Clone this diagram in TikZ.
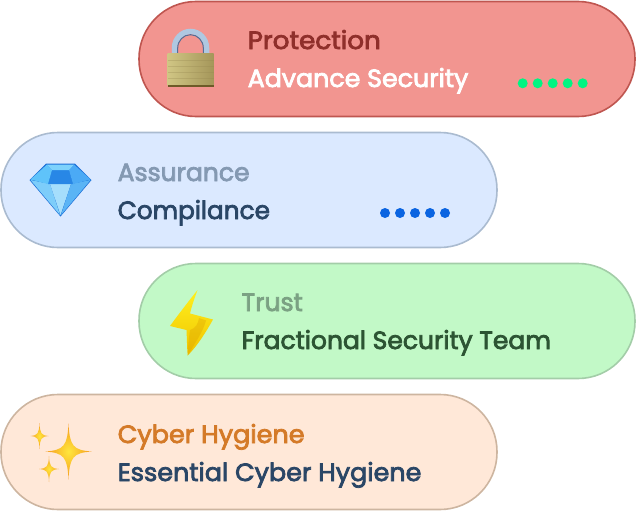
\documentclass[tikz,border=0pt]{standalone}
\usepackage{fontspec}
\setmainfont{Poppins}[FakeBold=3]
\usepackage{tikz}
\usetikzlibrary{positioning}
\usetikzlibrary{calc}
\definecolor{redfill}{HTML}{F29590}
\definecolor{reddraw}{HTML}{BF5650}
\definecolor{redtext}{HTML}{8F2F2B}
\definecolor{bluefill}{HTML}{DBE9FF}
\definecolor{bluedraw}{HTML}{AABBD0}
\definecolor{bluetext}{HTML}{8499B2}
\definecolor{darktext}{HTML}{2A4666}
\definecolor{greenfill}{HTML}{C2F9C7}
\definecolor{greendraw}{HTML}{A3CDA8}
\definecolor{greentext}{HTML}{7BA183}
\definecolor{greendark}{HTML}{2C5433}
\definecolor{peachfill}{HTML}{FFE8D8}
\definecolor{peachdraw}{HTML}{CDB5A0}
\definecolor{peachtext}{HTML}{D47A28}
\definecolor{sparkmid}{HTML}{FFE63C}
\definecolor{sparkout}{HTML}{F59A1E}
\tikzstyle{pill}=[draw,line width=1.6pt,rounded corners=57pt,minimum width=496pt,minimum height=115pt,inner sep=0pt]
\tikzstyle{label}=[anchor=base west,inner sep=0pt,transform shape,font=\fontsize{25}{30}\selectfont]
\newcommand{\sparkle}[4]{% x, y, half width, half height
  \shade [inner color=sparkmid,middle color=sparkmid,outer color=sparkout]
    (#1,#2-#4) .. controls (#1+#3*0.05,#2-#4*0.2) and (#1+#3*0.2,#2-#4*0.05) .. (#1+#3,#2)
    .. controls (#1+#3*0.2,#2+#4*0.05) and (#1+#3*0.05,#2+#4*0.2) .. (#1,#2+#4)
    .. controls (#1-#3*0.05,#2+#4*0.2) and (#1-#3*0.2,#2+#4*0.05) .. (#1-#3,#2)
    .. controls (#1-#3*0.2,#2-#4*0.05) and (#1-#3*0.05,#2-#4*0.2) .. (#1,#2-#4) -- cycle;
}
\begin{document}
\begin{tikzpicture}[x=1pt,y=-1pt]
\useasboundingbox (0,0) rectangle (636,511);
% the four pills
\node [pill,fill=redfill,draw=reddraw] (protection) at (387,59) {};
\node [pill,fill=bluefill,draw=bluedraw] (assurance) at (249,190) {};
\node [pill,fill=greenfill,draw=greendraw] (trust) at (387,321) {};
\node [pill,fill=peachfill,draw=peachdraw] (hygiene) at (249,452) {};
% labels
\node [label,text=redtext,xscale=1.05] (prottitle) at (247.5,49) {Protection};
\node [label,text=white,xscale=1.012] (protsub) at (247.5,87) {Advance Security};
\node [label,text=bluetext] (asstitle) at (117.5,181) {Assurance};
\node [label,text=darktext,xscale=.99] (asssub) at (117.5,219) {Compilance};
\node [label,text=greentext] (trusttitle) at (241.5,311) {Trust};
\node [label,text=greendark] (trustsub) at (241.5,349) {Fractional Security Team};
\node [label,text=peachtext,xscale=1.02] (hygtitle) at (117.5,443) {Cyber Hygiene};
\node [label,text=darktext,xscale=1.017] (hygsub) at (117.5,481) {Essential Cyber Hygiene};
% dots
\foreach \i in {0,...,4} {
  \fill [color={rgb,255:red,0;green,245;blue,130}] (522.7+15*\i,83.3) circle (5);
  \fill [color={rgb,255:red,10;green,100;blue,225}] (385+15*\i,213) circle (5);
}
% lock
\draw [line width=5.5pt,color={rgb,255:red,175;green,200;blue,225}] (174.5,56) -- (174.5,48) arc (180:360:16 and 16.5) -- (206.5,56);
\draw [line width=1pt,color={rgb,255:red,85;green,110;blue,150}] (177.7,56) -- (177.7,48) arc (180:360:12.8 and 13.3) -- (203.3,56);
\shade [left color={rgb,255:red,208;green,198;blue,132},right color={rgb,255:red,165;green,150;blue,90}] (167.5,53.5) rectangle (213.5,85);
\foreach \y in {60,66,72,78} {
  \fill [color={rgb,255:red,150;green,135;blue,80},opacity=.3] (167.5,\y) rectangle (213.5,\y+1);
}
\fill [color={rgb,255:red,110;green,90;blue,40}] (167.5,85) rectangle (213.5,86.5);
% diamond
\fill [color={rgb,255:red,25;green,110;blue,215}] (46,163.5) -- (75,163.5) -- (91.5,180) -- (60.5,216.5) -- (29.5,180) -- cycle;
\fill [color={rgb,255:red,125;green,205;blue,250}] (30.5,180) -- (50,184) -- (60,215) -- cycle;
\fill [color={rgb,255:red,165;green,222;blue,252}] (50,184) -- (71,184) -- (60.5,215) -- cycle;
\fill [color={rgb,255:red,90;green,180;blue,245}] (90.5,180) -- (71,184) -- (61,215) -- cycle;
\fill [color={rgb,255:red,40;green,135;blue,230}] (52,170) -- (69,170) -- (73,184) -- (48,184) -- cycle;
\fill [color={rgb,255:red,95;green,195;blue,250}] (47,164.5) -- (52,170) -- (48,184) -- (30.5,179.5) -- cycle;
\fill [color={rgb,255:red,75;green,170;blue,245}] (74,164.5) -- (69,170) -- (73,184) -- (90.5,179.5) -- cycle;
\fill [color={rgb,255:red,125;green,210;blue,252}] (47,164.5) -- (74,164.5) -- (69,170) -- (52,170) -- cycle;
% bolt
\shade [top color={rgb,255:red,255;green,240;blue,30},bottom color={rgb,255:red,240;green,195;blue,0}]
  (197.5,290) .. controls (188,302) and (178,315) .. (170,326) -- (186.5,330) .. controls (187,340) and (187,348) .. (187.7,355.5)
  .. controls (198,345) and (206,332) .. (213,319.5) -- (190,313.5) .. controls (192,305) and (195,297) .. (197.5,290) -- cycle;
\fill [color={rgb,255:red,215;green,150;blue,0},opacity=.3] (190,330) .. controls (196,328) and (198,324) .. (199,318) -- (206,320.5) .. controls (203,332) and (195,343) .. (187.7,355.5) .. controls (188,345) and (189,337) .. (190,330) -- cycle;
% sparkles
\sparkle{68.5}{451.5}{23}{28}
\sparkle{39.5}{436}{9}{13}
\sparkle{49}{469}{10}{13}
\end{tikzpicture}
\end{document}
